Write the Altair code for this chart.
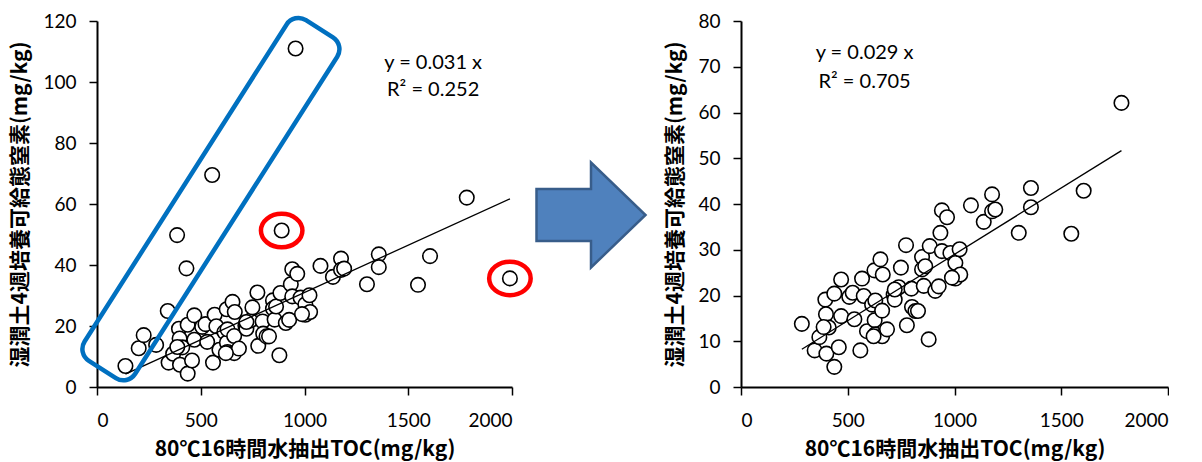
import altair as alt
import pandas as pd

# Samples kept for the refined regression (80C 16h water-extractable TOC, mg/kg ; 4-week incubation N, mg/kg)
toc_kept = [285, 345, 367, 400, 437, 458, 395, 398, 411, 387,
            437, 469, 469, 507, 523, 531, 559, 567, 575, 590,
            614, 625, 626, 629, 629, 653, 661, 661, 664, 684,
            715, 720, 739, 749, 773, 777, 798, 801, 817, 829,
            848, 848, 856, 863, 879, 884, 910, 926, 934, 941,
            941, 965, 981, 1004, 1004, 1024, 1027, 1077, 1137, 1176,
            1176, 1191, 1301, 1358, 1358, 1547, 1605, 1782,
            621, 988, 720]
n_kept = [13.8, 8.0, 10.9, 7.3, 4.4, 8.7, 19.1, 15.9, 13.0, 13.1,
          20.4, 23.5, 15.5, 19.7, 20.6, 14.8, 8.0, 23.7, 19.9, 12.2,
          18.0, 25.5, 14.6, 11.5, 18.9, 27.9, 16.7, 11.1, 24.6, 12.6,
          20.2, 19.1, 21.8, 26.1, 31.0, 13.5, 21.5, 17.5, 16.6, 16.6,
          28.4, 25.7, 22.1, 26.4, 10.4, 30.8, 21.0, 22.0, 33.7, 29.7,
          38.6, 37.1, 29.3, 27.1, 23.7, 30.1, 24.6, 39.7, 36.1, 42.1,
          38.4, 38.8, 33.7, 43.5, 39.3, 33.5, 42.9, 62.1,
          11.1, 23.9, 21.3]

# Samples excluded from the refined regression
toc_out = [957, 555, 386, 431, 341, 137, 201, 225, 890, 1990]
n_out = [111.0, 69.5, 49.8, 38.9, 24.9, 6.9, 12.7, 17.0, 51.3, 35.6]

# Fitted slopes (regression through the origin)
slope_all, r2_all = 0.031, 0.252
slope_kept, r2_kept = 0.029, 0.705

# Outlier annotations: box around the low-TOC / high-N group, rings on single points
box_center = {"x": 549, "y": 61.6}
ring_toc = [890, 1990]
ring_n = [51.3, 35.6]

X_TITLE = "80℃16時間水抽出TOC(mg/kg)"
Y_TITLE = "湿潤土4週培養可給態窒素(mg/kg)"

W_LEFT, W_GAP, W_RIGHT, H = 415, 229, 427, 366

df_all = pd.DataFrame({"toc": toc_kept + toc_out, "n": n_kept + n_out})
df_kept = pd.DataFrame({"toc": toc_kept, "n": n_kept})


def fit_line(df, slope):
    lo, hi = df["toc"].min(), df["toc"].max()
    return pd.DataFrame({"toc": [lo, hi], "n": [slope * lo, slope * hi]})


def x_enc():
    return alt.X("toc:Q", scale=alt.Scale(domain=[0, 2000], nice=False),
                 axis=alt.Axis(title=X_TITLE, values=[0, 500, 1000, 1500, 2000], format="d",
                               labelPadding=16, titlePadding=8))


def y_enc(top, step):
    return alt.Y("n:Q", scale=alt.Scale(domain=[0, top], nice=False),
                 axis=alt.Axis(title=Y_TITLE, values=list(range(0, top + 1, step)), format="d",
                               labelPadding=13, titlePadding=12))


def panel(df, slope, r2, top, step, eq_x, eq_y1, eq_y2):
    pts = alt.Chart(df).mark_point(
        shape="circle", filled=True, fill="white", stroke="black",
        strokeWidth=1.6, size=210, opacity=1
    ).encode(x=x_enc(), y=y_enc(top, step))
    line = alt.Chart(fit_line(df, slope)).mark_line(color="black", strokeWidth=1.3).encode(
        x="toc:Q", y="n:Q")
    eq = pd.DataFrame({"toc": [eq_x, eq_x], "n": [eq_y1, eq_y2],
                       "label": [f"y = {slope:.3f} x", f"R² = {r2:.3f}"]})
    txt = alt.Chart(eq).mark_text(font="Lato", fontSize=20, color="black",
                                  align="center", baseline="middle").encode(
        x="toc:Q", y="n:Q", text="label:N")
    return [pts, line, txt]


left_layers = panel(df_all, slope_all, r2_all, 120, 20, 1620, 106.2, 97.4)

rr = 14 / 202
hw = 30 / 202
box_path = (f"M {-hw},{-1 + rr} A {rr},{rr} 0 0 1 {-hw + rr},-1 L {hw - rr},-1 "
            f"A {rr},{rr} 0 0 1 {hw},{-1 + rr} L {hw},{1 - rr} "
            f"A {rr},{rr} 0 0 1 {hw - rr},1 L {-hw + rr},1 "
            f"A {rr},{rr} 0 0 1 {-hw},{1 - rr} Z")
box = alt.Chart(pd.DataFrame({"toc": [box_center["x"]], "n": [box_center["y"]]})).mark_point(
    shape=box_path, filled=False, stroke="#0070C0", strokeWidth=4.5,
    size=(2 * 202) ** 2, angle=32.5, opacity=1
).encode(x="toc:Q", y="n:Q")

ring_path = "M -1,0 A 1,0.807 0 1,1 1,0 A 1,0.807 0 1,1 -1,0 Z"
rings = alt.Chart(pd.DataFrame({"toc": ring_toc, "n": ring_n})).mark_point(
    shape=ring_path, filled=False, stroke="#FF0000", strokeWidth=4.5,
    size=41.5 ** 2, opacity=1
).encode(x="toc:Q", y="n:Q")

left = alt.layer(*left_layers, box, rings).properties(width=W_LEFT, height=H)

arrow_path = "M -1,-0.477 L 0,-0.477 L 0,-0.963 L 1,0 L 0,0.963 L 0,0.477 L -1,0.477 Z"
arrow = alt.Chart(pd.DataFrame({"k": [0]})).mark_point(
    shape=arrow_path, filled=True, fill="#4F81BD", stroke="#385D8A",
    strokeWidth=2.5, size=109 ** 2, opacity=1
).encode(x=alt.value(79), y=alt.value(194)).properties(width=W_GAP, height=H)

right = alt.layer(*panel(df_kept, slope_kept, r2_kept, 80, 10, 579, 72.9, 66.7)).properties(
    width=W_RIGHT, height=H)

chart = alt.hconcat(left, arrow, right, spacing=0, bounds="flush").properties(
    padding={"left": 9, "top": 8, "right": 0, "bottom": 5}
).configure_view(stroke=None).configure_axis(
    grid=False, domainColor="black", domainWidth=2, tickColor="black", tickWidth=1.5,
    tickSize=8, labelFont="Lato", labelFontSize=19, labelColor="black",
    titleFont="Noto Sans CJK JP", titleFontSize=21, titleFontWeight="bold", titleColor="black"
)

chart.save("out.html", embed_options={"renderer": "svg", "actions": False})
